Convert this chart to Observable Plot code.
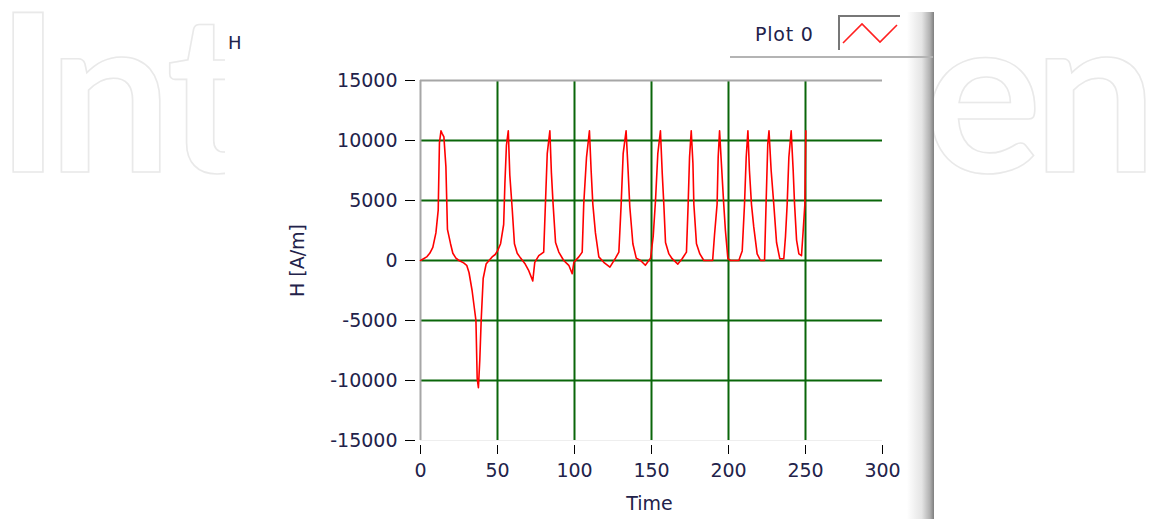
<!DOCTYPE html>
<html>
<head>
<meta charset="utf-8">
<script src="https://cdn.jsdelivr.net/npm/d3@7"></script>
<script src="https://cdn.jsdelivr.net/npm/@observablehq/plot@0.6"></script>
<style>
  html, body { margin: 0; padding: 0; background: #fff; }
  #wrap { position: relative; width: 1149px; height: 519px; overflow: hidden; background: #fff; font-family: "DejaVu Sans", sans-serif; color: #22224a; }
  .abs { position: absolute; }
  .wm { font-family: Lato, sans-serif; font-weight: 700; font-size: 220px; fill: none; stroke: #e9e9e9; stroke-width: 1.6; }
</style>
</head>
<body>
<div id="wrap">
  <svg class="abs" style="left:0;top:0" width="1149" height="519">
    <text class="wm" x="28 110 207" y="172" text-anchor="middle">Int</text>
    <text class="wm" x="983 1095" y="172" text-anchor="middle">en</text>
  </svg>
  <div class="abs" style="left:225px;top:0;width:708px;height:519px;background:#fff"></div>
  <div class="abs" style="left:907px;top:12px;width:27px;height:507px;background:linear-gradient(to right,#ffffff 0%,#e4e4e4 55%,#b0b0b0 85%,#7e7e7e 100%)"></div>
  <div class="abs" style="left:730px;top:56px;width:203px;height:2px;background:#b4b4b4"></div>
  <div class="abs" style="left:228px;top:32px;font-size:18px;line-height:22px">H</div>
  <div class="abs" style="left:755px;top:23px;font-size:19px;line-height:22px;letter-spacing:0.8px">Plot 0</div>
  <svg class="abs" style="left:838px;top:15px" width="62" height="35">
    <rect x="0" y="0" width="62" height="35" fill="#fff"/>
    <path d="M1,35 V1 H62" fill="none" stroke="#777" stroke-width="2"/>
    <polyline points="5,28 24,9 42,27 59,10" fill="none" stroke="#ff2020" stroke-width="1.6"/>
  </svg>
  <div id="chart" class="abs" style="left:0;top:0"></div>
</div>
<script>
// Time axis samples and H field values [A/m]
const time = [0,2,4,6,8,10,11.5,12.3,13.3,14,15.2,16.5,17.5,19.5,21,23,25,28,30,31.5,33.5,35,36,36.8,37.6,38.5,39.4,40.7,42.6,44.5,46.5,48.5,50,52,54,54.8,55.8,57,58,59.5,61,62.8,65,68,70.3,72.9,74.2,76.8,80,81.2,82.3,84,85,86.1,87.7,89.8,93,96.3,98.5,99.6,102.8,105,106,107.8,109.7,110.8,111.9,113.6,115.8,119,123,126.6,128.8,130.3,131.6,133.5,134.8,135.9,137.9,140.1,142.9,146,149.4,151.1,152.6,154.1,155.8,157,158,159.1,161.3,163.4,167.1,169.9,172.7,173.8,174.7,175.8,176.9,177.5,179.2,181.4,184,189.7,190.9,192.6,193.3,194.2,195.2,196.9,198,199.6,201.3,206.7,208.9,210.4,211.5,212.6,213.6,214.9,216.4,218.6,220.8,223.4,224.4,225.5,226.3,227.7,229.4,231.2,233.3,235.9,237,238.1,239.2,240.7,242,242.9,244.2,245.7,247.4,248.5,249.6,250.2];
const hField = [0,150,300,600,1100,2300,4200,9800,10800,10600,10300,7800,2600,1400,600,200,0,-200,-400,-1000,-2500,-4000,-5000,-9800,-10600,-8300,-5000,-1500,-300,0,300,500,800,1400,3000,6400,9600,10800,7100,4400,1400,600,200,-300,-850,-1700,-150,400,700,5000,8900,10800,7300,4700,1500,700,0,-400,-1100,-150,300,700,4700,8600,10800,7500,4700,2300,300,-150,-550,200,700,4700,8900,10800,7500,4500,1400,200,0,-400,200,2000,5000,8900,10800,7200,4700,1500,550,150,-300,150,700,4700,8600,10800,8100,4700,1400,550,0,0,2100,4700,8600,10800,8500,4700,2500,150,0,0,800,4700,8600,10800,7500,4700,2800,550,0,0,4700,9700,10800,7500,4700,1500,150,150,2000,4700,8600,10800,7500,4700,1700,550,400,2500,4700,10800];

const xTicks = [0, 50, 100, 150, 200, 250, 300];
const yTicks = [-15000, -10000, -5000, 0, 5000, 10000, 15000];
const xGridLines = [50, 100, 150, 200, 250];
const yGridLines = [-10000, -5000, 0, 5000, 10000];
const xLabel = "Time";
const yLabel = "H [A/m]";

const data = time.map((t, i) => ({t, h: hField[i]}));
const textColor = "#22224a";
const gridColor = "#0a660a";

const chart = Plot.plot({
  width: 1149,
  height: 519,
  marginLeft: 420,
  marginRight: 267,
  marginTop: 80,
  marginBottom: 79,
  style: {background: "transparent", fontFamily: "DejaVu Sans, sans-serif", fontSize: "19px", color: textColor},
  x: {domain: [0, 300]},
  y: {domain: [-15000, 15000]},
  marks: [
    Plot.ruleY([-15000], {stroke: "#eeeeee", strokeWidth: 1}),
    Plot.gridY(yGridLines, {stroke: gridColor, strokeWidth: 2, strokeOpacity: 1}),
    Plot.gridX(xGridLines, {stroke: gridColor, strokeWidth: 2, strokeOpacity: 1}),
    Plot.ruleX([0], {stroke: "#a6a6a6", strokeWidth: 2}),
    Plot.ruleY([15000], {stroke: "#a6a6a6", strokeWidth: 2}),
    Plot.line(data, {x: "t", y: "h", stroke: "#ff0000", strokeWidth: 1.6}),
    Plot.axisY(yTicks, {tickSize: 10, tickPadding: 8, dx: -5, tickFormat: d => String(d), stroke: "#000", fill: textColor, label: null}),
    Plot.axisX(xTicks, {tickSize: 9, tickPadding: 9, dy: 5, tickFormat: d => String(d), stroke: "#000", fill: textColor, label: null}),
    Plot.text([xLabel], {frameAnchor: "bottom", dy: 63, lineAnchor: "middle", textAnchor: "middle", fill: textColor, fontSize: 19, dx: -2}),
    Plot.text([yLabel], {frameAnchor: "left", dx: -123, rotate: -90, lineAnchor: "middle", textAnchor: "middle", fill: textColor, fontSize: 19})
  ]
});
document.getElementById("chart").appendChild(chart);
</script>
</body>
</html>
